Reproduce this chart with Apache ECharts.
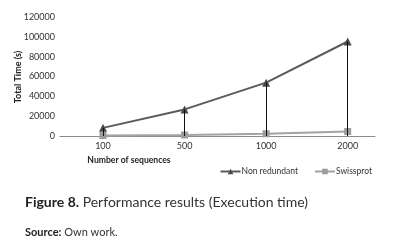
<!DOCTYPE html>
<html>
<head>
<meta charset="utf-8">
<script src="https://cdn.jsdelivr.net/npm/echarts@6/dist/echarts.min.js"></script>
<style>
  html, body { margin: 0; padding: 0; background: #fff; }
  #chart { width: 393px; height: 241px; }
</style>
</head>
<body>
<div id="chart"></div>
<script>
// values
var categories = ['100', '500', '1000', '2000'];
var nonRedundant = [8200, 26800, 53800, 95300];
var swissprot = [500, 1000, 2300, 4500];
var yTicks = [0, 20000, 40000, 60000, 80000, 100000, 120000];

function pairs(arr) {
    var out = [];
    for (var i = 0; i < arr.length; i++) out.push([i, arr[i]]);
    return out;
}
function dropLines(arr) {
    var out = [];
    for (var i = 0; i < arr.length; i++) {
        out.push([{coord: [i, 0]}, {coord: [i, arr[i]]}]);
    }
    return out;
}

var font = 'Lato, "Open Sans", sans-serif';
var chart = echarts.init(document.getElementById('chart'));
var option = {
    animation: false,
    textStyle: {fontFamily: font},
    grid: {left: 60, right: 18, top: 17, bottom: 105},
    xAxis: {
        type: 'value',
        min: -0.527,
        max: 3.335,
        splitLine: {show: false},
        axisTick: {show: false},
        axisLine: {lineStyle: {color: '#8c8c8c', width: 1}},
        axisLabel: {
            customValues: [0, 1, 2, 3],
            formatter: function (v) { return categories[Math.round(v)]; },
            color: '#333', fontSize: 9, margin: 6, fontFamily: font
        }
    },
    yAxis: {
        type: 'value',
        min: yTicks[0],
        max: yTicks[yTicks.length - 1],
        interval: 20000,
        splitLine: {show: false},
        axisTick: {show: false},
        axisLine: {show: false},
        axisLabel: {
            color: '#333', fontSize: 9, margin: 5, fontFamily: font,
            formatter: function (v) { return String(v); }
        }
    },
    legend: {
        right: 16,
        top: 162,
        itemWidth: 20,
        itemHeight: 7,
        itemGap: 16,
        textStyle: {fontSize: 8.5, color: '#333', fontFamily: font, padding: [0, 0, 0, -4]},
        data: ['Non redundant', 'Swissprot']
    },
    series: [
        {
            name: 'Non redundant',
            type: 'line',
            data: pairs(nonRedundant),
            symbol: 'triangle',
            symbolSize: 8,
            z: 3,
            lineStyle: {color: '#5a5a5a', width: 2},
            itemStyle: {color: '#4a4a4a'},
            markLine: {
                silent: true,
                symbol: 'none',
                label: {show: false},
                lineStyle: {color: '#111', width: 1, type: 'solid'},
                data: dropLines(nonRedundant)
            }
        },
        {
            name: 'Swissprot',
            type: 'line',
            data: pairs(swissprot),
            symbol: 'rect',
            symbolSize: 7,
            z: 4,
            lineStyle: {color: '#a3a3a3', width: 2},
            itemStyle: {color: '#9c9c9c'}
        }
    ],
    graphic: [
        {
            type: 'text', x: 129, y: 160,
            style: {text: 'Number of sequences', font: 'bold 8.6px ' + font, fill: '#222', align: 'center', verticalAlign: 'middle'}
        },
        {
            type: 'text', x: 18, y: 77, rotation: Math.PI / 2,
            style: {text: 'Total Time (s)', font: 'bold 9px ' + font, fill: '#222', align: 'center', verticalAlign: 'middle'}
        },
        {
            type: 'text', x: 25, y: 202,
            style: {
                text: '{b|Figure 8.} Performance results (Execution time)',
                verticalAlign: 'middle',
                rich: {
                    b: {font: 'bold 14px ' + font, fill: '#222'}
                },
                font: '14px ' + font, fill: '#333'
            }
        },
        {
            type: 'text', x: 25, y: 232,
            style: {
                text: '{b|Source:} Own work.',
                verticalAlign: 'middle',
                rich: {
                    b: {font: 'bold 11px ' + font, fill: '#222'}
                },
                font: '11px ' + font, fill: '#333'
            }
        }
    ]
};
chart.setOption(option);
</script>
</body>
</html>
